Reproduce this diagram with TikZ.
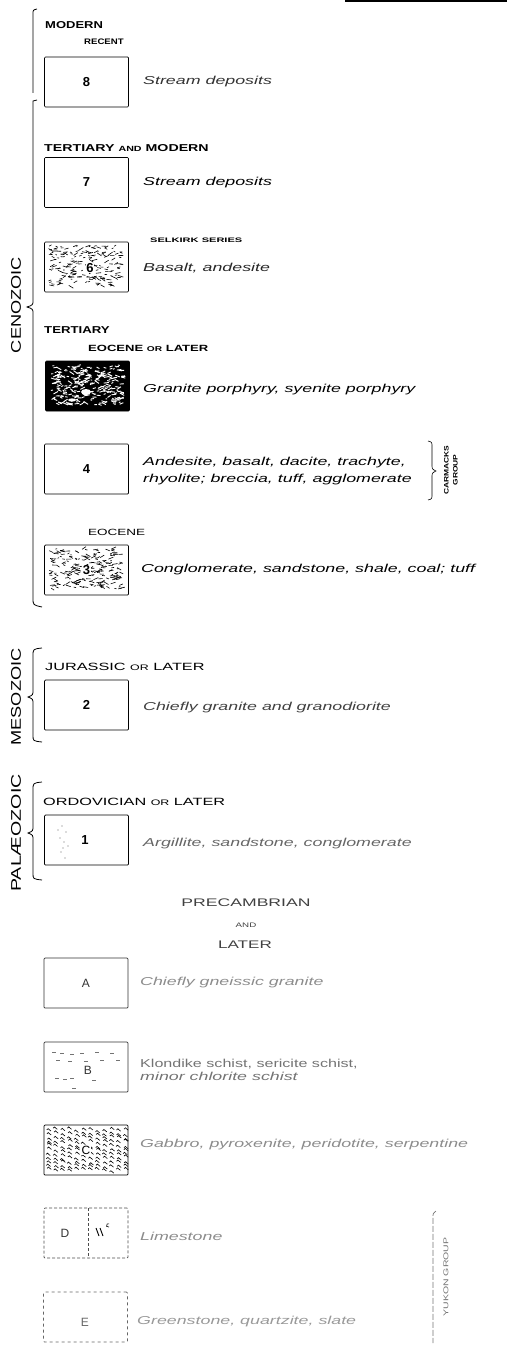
\documentclass[tikz,border=0pt]{standalone}
\usepackage{fontspec}
\setmainfont{Liberation Sans}
\usepackage{graphicx}
\newcommand\hs[2]{\scalebox{#1}[1]{#2}}
\newcommand\smc[1]{{\fontsize{7.5}{9}\selectfont #1}}
\newcommand\rmarks[4]{%
  \foreach \k in {1,...,#3}{%
    \pgfmathsetmacro\mx{#1-38+72*rnd}%
    \pgfmathsetmacro\my{#2-21+40*rnd}%
    \pgfmathsetmacro\ml{1.5+4*rnd}%
    \pgfmathsetmacro\ma{-35+70*rnd}%
    \draw[#4] (\mx,\my) -- ++(\ma:\ml);
  }}
\newcommand\gwaves[3]{%
  \foreach \gy in {-20,-16,...,20}{%
    \foreach \gx in {-40,-33,...,37}{%
      \pgfmathsetmacro\mx{#1+\gx+1.5*rnd}%
      \pgfmathsetmacro\my{#2+\gy+2*rand}%
      \draw[#3] (\mx,\my) sin ++(1.4,-1.3) cos ++(1.4,1.3) sin ++(1.4,1.1);
    }}}
\tikzset{
  lbox/.style={draw, line width=0.7pt, rounded corners=1pt, minimum width=84pt, minimum height=50pt, inner sep=0pt},
  num/.style={font=\fontsize{13}{14}\selectfont\bfseries},
  desc/.style={anchor=west, inner sep=0pt, font=\fontsize{11.5}{17}\selectfont\itshape, align=left},
  head/.style={anchor=west, inner sep=0pt},
  brk/.style={line width=0.8pt},
  era/.style={rotate=90, inner sep=0pt, font=\fontsize{14}{16}\selectfont},
}
\begin{document}
\begin{tikzpicture}[x=1pt,y=-1pt]
\useasboundingbox (0,0) rectangle (507,1364);
% scan edge line at top right
\draw[line width=1.2pt] (345,1) -- (410,1);
\draw[line width=2.5pt] (410,1.2) -- (507,1.2);

% ---------- brackets and braces ----------
\draw[brk] (37,9) .. controls (33,10) .. (33,14) -- (33,93);
\draw[brk] (37,100) -- (33,101) -- (33,300) .. controls (33,305) .. (27,307) .. controls (33,309) .. (33,314) -- (33,598) .. controls (33,605) .. (42,607);
\draw[brk] (42,648) .. controls (33,649) .. (33,656) -- (33,690) .. controls (33,695) .. (28,697) .. controls (33,699) .. (33,704) -- (33,735) .. controls (33,741) .. (42,742);
\draw[brk] (42,782) .. controls (33,783) .. (33,790) -- (33,826) .. controls (33,831) .. (28,833) .. controls (33,835) .. (33,840) -- (33,873) .. controls (33,879) .. (42,880);
\draw[brk,line width=0.6pt] (428,441) .. controls (432,442) .. (432,447) -- (432,465) .. controls (432,469) .. (436,471) .. controls (432,473) .. (432,477) -- (432,494) .. controls (432,499) .. (428,500);
\draw[line width=0.7pt, black!55, dash pattern=on 6pt off 2pt] (436,1211) .. controls (433,1213) .. (433,1218) -- (433,1343);

% ---------- era labels ----------
\node[era] (cen) at (16,305) {\hs{1.3}{CENOZOIC}};
\node[era] (mes) at (16,697) {\hs{1.3}{MESOZOIC}};
\node[era] (pal) at (16,833) {\hs{1.4}{PALÆOZOIC}};

% ---------- headings ----------
\node[head] (hmod) at (45,25) {\hs{1.3}{\fontsize{10}{12}\selectfont\bfseries MODERN}};
\node[head] (hrec) at (84,42) {\hs{1.2}{\fontsize{8}{9}\selectfont\bfseries RECENT}};
\node[head] (htam) at (44,148) {\hs{1.42}{\fontsize{10}{12}\selectfont\bfseries TERTIARY \smc{AND} MODERN}};
\node[head] (hsel) at (150,240) {\hs{1.7}{\fontsize{6.5}{8}\selectfont\bfseries SELKIRK SERIES}};
\node[head] (hter) at (44,330) {\hs{1.32}{\fontsize{10}{12}\selectfont\bfseries TERTIARY}};
\node[head] (heol) at (88,348) {\hs{1.45}{\fontsize{9}{11}\selectfont\bfseries EOCENE {\fontsize{7}{8}\selectfont OR} LATER}};
\node[head] (heoc) at (88,532) {\hs{1.5}{\fontsize{9}{11}\selectfont EOCENE}};
\node[head] (hjur) at (45,667) {\hs{1.55}{\fontsize{10.5}{12}\selectfont JURASSIC {\fontsize{8}{9}\selectfont OR} LATER}};
\node[head] (hord) at (43,802) {\hs{1.55}{\fontsize{10.5}{12}\selectfont ORDOVICIAN {\fontsize{8}{9}\selectfont OR} LATER}};
\node[inner sep=0pt, text=black!75] (hpre) at (246,903) {\hs{1.6}{\fontsize{11}{12}\selectfont PRECAMBRIAN}};
\node[inner sep=0pt, text=black!75] (hand) at (246,925) {\hs{1.5}{\fontsize{6.5}{8}\selectfont AND}};
\node[inner sep=0pt, text=black!75] (hlat) at (245,945) {\hs{1.55}{\fontsize{11}{12}\selectfont LATER}};

% ---------- boxes ----------
\node[lbox] (b8) at (86.5,82) {};
\node[lbox] (b7) at (86.5,182.5) {};
\node[lbox] (b6) at (86.5,267) {};
\node[lbox, fill=black] (b5) at (87.5,386) {};
\node[lbox] (b4) at (86.5,469) {};
\node[lbox] (b3) at (86.5,570) {};
\node[lbox] (b2) at (86.5,705) {};
\node[lbox] (b1) at (86.5,840) {};
\node[lbox, draw=black!80] (bA) at (86,983) {};
\node[lbox, draw=black!80] (bB) at (86,1067) {};
\node[lbox] (bC) at (86,1150) {};
\node[lbox, draw=black!70, densely dashed] (bD) at (86,1233) {};
\node[lbox, draw=black!60, dashed] (bE) at (85.5,1317) {};
\draw[black!70, densely dashed, line width=0.6pt] (88,1208) -- (88,1258);

% ---------- patterns ----------
\pgfmathsetseed{11}
\rmarks{86.5}{267}{200}{line width=0.6pt}
\rmarks{87.5}{386}{260}{white, line width=0.9pt}
\fill[white] (86,392) ellipse (5 and 3);
\fill[white] (72,400) ellipse (4 and 1.6);
\rmarks{86.5}{570}{230}{line width=0.6pt}
\foreach \p in {(62,826),(66,832),(60,838),(64,842),(68,846),(61,852),(65,858),(58,830),(63,848)}
  \fill[black!60] \p circle (0.6);
\foreach \p in {(52,1052),(60,1053),(70,1054),(80,1053),(95,1052),(110,1053),(56,1060),(68,1061),(84,1061),(100,1060),(116,1060),(55,1078),(63,1079),(70,1078),(92,1080),(72,1088)}
  \draw[black!55, line width=0.6pt] \p -- ++(4,0);
\pgfmathsetseed{5}
\gwaves{86}{1150}{line width=0.6pt}

% ---------- numbers ----------
\node[num] (n8) at (b8) {8};
\node[num] (n7) at (b7) {7};
\node[num, fill=white, inner sep=0.5pt] (n6) at (90,268) {6};
\node[num] (n4) at (b4) {4};
\node[num, fill=white, inner sep=0.5pt] (n3) at (b3) {3};
\node[num] (n2) at (b2) {2};
\node[num, fill=white, inner sep=0.5pt] (n1) at (85,840) {1};
\node[num, font=\fontsize{12}{13}\selectfont, text=black!80] (nA) at (bA) {A};
\node[num, font=\fontsize{12}{13}\selectfont, text=black!80, fill=white, inner sep=0.5pt] (nB) at (88,1070) {B};
\node[num, font=\fontsize{12}{13}\selectfont, fill=white, inner sep=0.5pt] (nC) at (bC) {C};
\node[num, font=\fontsize{12}{13}\selectfont, text=black!80] (nD) at (65,1233) {D};
\node[num, font=\fontsize{12}{13}\selectfont, text=black!60] (nE) at (85,1322) {E};
\draw[line width=0.9pt] (96,1228) -- (99,1236) (100,1228) -- (103,1236);
\draw[line width=0.6pt] (109,1227) arc (60:300:1.8);

% ---------- descriptions ----------
\node[desc, text=black!80] (t8) at (143,82) {\hs{1.55}{Stream deposits}};
\node[desc] (t7) at (143,183) {\hs{1.55}{Stream deposits}};
\node[desc, text=black!85] (t6) at (143,268) {\hs{1.55}{Basalt, andesite}};
\node[desc] (t5) at (143,390) {\hs{1.55}{Granite porphyry, syenite porphyry}};
\node[desc] (t4) at (143,471) {\hs{1.55}{Andesite, basalt, dacite, trachyte,}\\\hs{1.55}{rhyolite; breccia, tuff, agglomerate}};
\node[desc] (t3) at (141,570) {\hs{1.55}{Conglomerate, sandstone, shale, coal; tuff}};
\node[desc, text=black!75] (t2) at (143,708) {\hs{1.55}{Chiefly granite and granodiorite}};
\node[desc, text=black!60] (t1) at (143,844) {\hs{1.55}{Argillite, sandstone, conglomerate}};
\node[desc, text=black!45] (tA) at (140,983) {\hs{1.55}{Chiefly gneissic granite}};
\node[anchor=west, inner sep=0pt, align=left, font=\fontsize{11.5}{13}\selectfont, text=black!55] (tB) at (140,1070) {\hs{1.4}{Klondike schist, sericite schist,}\\\hs{1.55}{\itshape minor chlorite schist}};
\node[desc, text=black!45] (tC) at (140,1145) {\hs{1.55}{Gabbro, pyroxenite, peridotite, serpentine}};
\node[desc, text=black!45] (tD) at (140,1236) {\hs{1.55}{Limestone}};
\node[desc, text=black!40] (tE) at (137,1322) {\hs{1.55}{Greenstone, quartzite, slate}};

% ---------- group labels ----------
\node[rotate=90, align=center, inner sep=0pt, font=\fontsize{6.5}{9}\selectfont\bfseries] (gcar) at (451,470) {\hs{1.3}{CARMACKS}\\\hs{1.3}{GROUP}};
\node[rotate=90, inner sep=0pt, font=\fontsize{7}{9}\selectfont, text=black!55] (gyuk) at (446,1277) {\hs{1.5}{YUKON GROUP}};
\end{tikzpicture}
\end{document}
